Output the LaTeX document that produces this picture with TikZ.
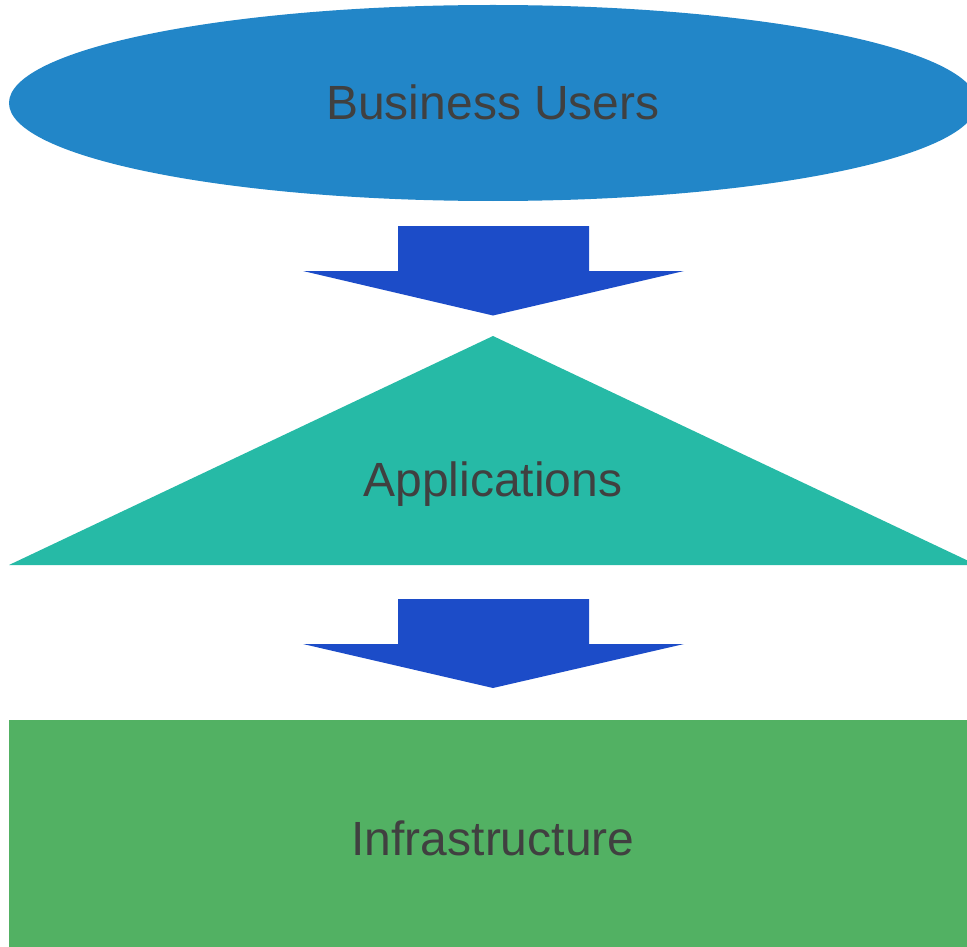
\documentclass[tikz,border=0pt]{standalone}
\usepackage{fontspec}
\setmainfont{Liberation Sans}
\usetikzlibrary{shapes.geometric}
\definecolor{userblue}{HTML}{2286C8}
\definecolor{arrowblue}{HTML}{1C4CC8}
\definecolor{appteal}{HTML}{26BAA6}
\definecolor{infragreen}{HTML}{52B163}
\definecolor{labelgray}{HTML}{404040}
\begin{document}
\begin{tikzpicture}[x=1pt,y=-1pt,
  lbl/.style={text=labelgray,font=\fontsize{48}{56}\selectfont,inner sep=0pt},
  downarrow/.style={fill=arrowblue,draw=none}]
\useasboundingbox (0,0) rectangle (967,947);
\clip (0,0) rectangle (967,947);
% Business Users ellipse
\node[ellipse,fill=userblue,draw=none,minimum width=968pt,minimum height=196pt,inner sep=0pt] (users) at (493,103) {};
\node[lbl] (userstxt) at (493,102) {Business Users};
% Arrow 1
\fill[downarrow] (398,226) -- (589,226) -- (589,271) -- (684,271) -- (493,315.5) -- (303,271) -- (398,271) -- cycle;
% Applications triangle
\coordinate (appapex) at (493,336);
\coordinate (appleft) at (9,565);
\coordinate (appright) at (977,565);
\fill[appteal] (appapex) -- (appright) -- (appleft) -- cycle;
\node[lbl] (apps) at (493,484) {Applications};
% Arrow 2
\fill[downarrow] (398,599) -- (589,599) -- (589,644) -- (684,644) -- (493,688) -- (303,644) -- (398,644) -- cycle;
% Infrastructure rectangle
\fill[infragreen] (9,720) rectangle (980,960);
\node[lbl] (infra) at (493,838) {Infrastructure};
\end{tikzpicture}
\end{document}
